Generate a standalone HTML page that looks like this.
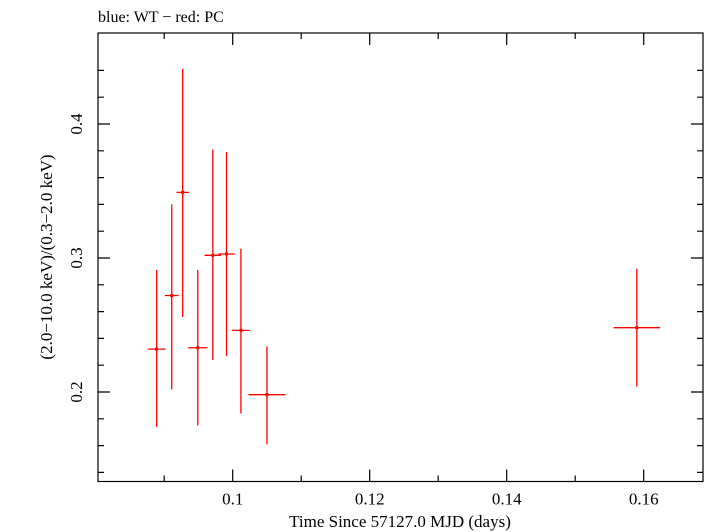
<!DOCTYPE html>
<html><head><meta charset="utf-8"><style>
body{margin:0;background:#fff;}
svg{display:block;font-family:"Liberation Serif",serif;}
</style></head><body>
<svg id="chart" width="705" height="532">
<text x="98" y="22" font-size="16">blue: WT − red: PC</text>
<rect x="98" y="33" width="605" height="448.5" fill="none" stroke="#000" stroke-width="1.2"/>
<g id="axes"></g>
<g id="marks"></g>
<text x="400" y="527" font-size="17" text-anchor="middle">Time Since 57127.0 MJD (days)</text>
<text transform="translate(52,257) rotate(-90)" font-size="17" text-anchor="middle">(2.0−10.0 keV)/(0.3−2.0 keV)</text>
</svg>
<script>
const xs=[0.0889,0.0911,0.0927,0.0949,0.0971,0.0991,0.1012,0.1050,0.1590];
const xerr=[0.0013,0.0010,0.0009,0.0014,0.0012,0.0012,0.0013,0.0027,0.0034];
const ys=[0.232,0.272,0.349,0.233,0.302,0.303,0.246,0.198,0.248];
const yhi=[0.291,0.340,0.441,0.291,0.381,0.379,0.307,0.234,0.292];
const ylo=[0.174,0.202,0.256,0.175,0.224,0.227,0.184,0.161,0.204];
const xTicks=[0.1,0.12,0.14,0.16];
const xTickLabels=["0.1","0.12","0.14","0.16"];
const xMinor=[0.09,0.11,0.13,0.15];
const yTicks=[0.2,0.3,0.4];
const yTickLabels=["0.2","0.3","0.4"];
const yMinor=[0.14,0.16,0.18,0.22,0.24,0.26,0.28,0.32,0.34,0.36,0.38,0.42,0.44];
const X=v=>232.7+(v-0.1)*6850;
const Y=v=>392-(v-0.2)*1340;
const NS="http://www.w3.org/2000/svg";
function mk(tag,at,parent){const e=document.createElementNS(NS,tag);for(const k in at)e.setAttribute(k,at[k]);parent.appendChild(e);return e;}
const ax=document.getElementById('axes'),mg=document.getElementById('marks');
const T=481.5,L=98,R=703,TOP=33;
xTicks.forEach((v,i)=>{const x=X(v);
 let l=mk('path',{d:`M${x},${T}v-12M${x},${TOP}v12`,stroke:'#000','stroke-width':1.2},ax);
 
 let t=mk('text',{x:x,y:T+23,'font-size':17,'text-anchor':'middle'},ax);t.textContent=xTickLabels[i];
 });
xMinor.forEach(v=>{const x=X(v);
 let l=mk('path',{d:`M${x},${T}v-6M${x},${TOP}v6`,stroke:'#000','stroke-width':1.2},ax);
 });
yTicks.forEach((v,i)=>{const y=Y(v);
 let l=mk('path',{d:`M${L},${y}h12M${R},${y}h-12`,stroke:'#000','stroke-width':1.2},ax);
 
 let t=mk('text',{transform:`translate(${L-16},${y}) rotate(-90)`,'font-size':17,'text-anchor':'middle'},ax);t.textContent=yTickLabels[i];
 });
yMinor.forEach(v=>{const y=Y(v);if(y<TOP||y>T)return;
 let l=mk('path',{d:`M${L},${y}h6M${R},${y}h-6`,stroke:'#000','stroke-width':1.2},ax);
 });
xs.forEach((v,i)=>{const x=X(v),y=Y(ys[i]);
 let g=mk('g',{},mg);
 
 mk('path',{d:`M${X(v-xerr[i])},${y}H${X(v+xerr[i])}M${x},${Y(yhi[i])}V${Y(ylo[i])}`,stroke:'#f00','stroke-width':1.3},g);
 mk('rect',{x:x-1.5,y:y-1.5,width:3,height:3,fill:'#f00'},g);});
</script>
</body></html>
